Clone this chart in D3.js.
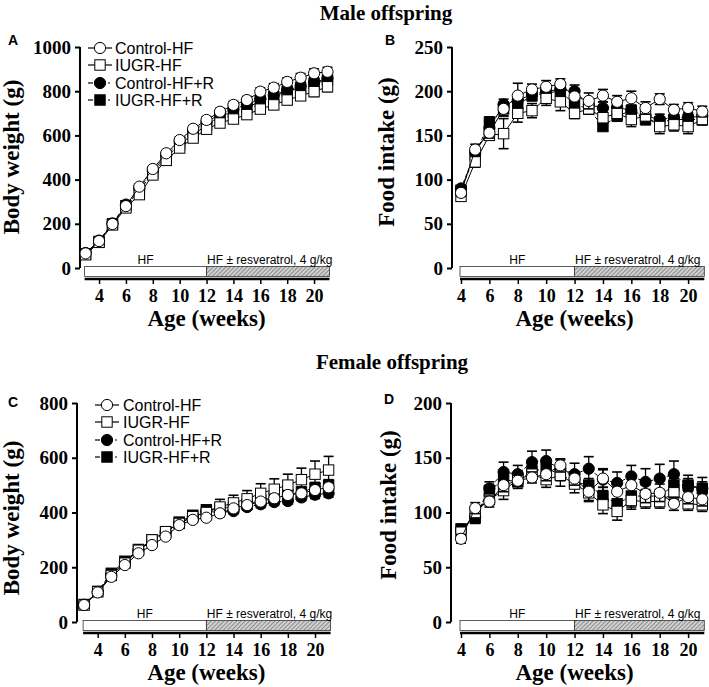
<!DOCTYPE html>
<html><head><meta charset="utf-8">
<script src="https://cdn.jsdelivr.net/npm/d3@7"></script>
<style>body{margin:0;background:#fff}</style>
</head><body>
<svg id="c" width="709" height="687"></svg>
<script>
// ---------- data ----------
const seriesNames = ["Control-HF", "IUGR-HF", "Control-HF+R", "IUGR-HF+R"];
const weeksBW = [3,4,5,6,7,8,9,10,11,12,13,14,15,16,17,18,19,20,21];
const weeksFI = [4,5,6,7,8,9,10,11,12,13,14,15,16,17,18,19,20,21];
const xTicks = [4,6,8,10,12,14,16,18,20];

// A: male body weight (g)
const A_ctrl  = [66,122,199,280,368,448,519,579,630,670,707,738,760,798,816,842,861,881,888];
const A_iugr  = [60,116,195,272,332,421,487,543,588,628,656,674,694,719,738,760,779,798,820];
const A_ctrlR = [68,124,202,287,360,440,510,570,620,660,697,718,740,765,782,805,822,840,858];
const A_iugrR = [64,120,200,282,350,430,500,560,605,645,690,705,725,755,775,800,815,835,850];
const A_ctrlE = [5,6,8,10,12,12,12,14,14,15,15,16,16,17,18,18,19,20,20];
const A_iugrE = [5,6,8,10,12,12,12,14,14,16,16,18,18,18,20,20,20,22,22];
const A_ctrlRE= [5,6,8,10,12,12,12,14,14,15,15,16,16,17,18,18,19,20,20];
const A_iugrRE= [5,6,8,10,12,12,12,14,14,15,15,16,16,17,18,18,19,20,20];

// B: male food intake (g)
const B_ctrl  = [85,134,153,180,195,202,205,208,194,189,195,188,192,181,191,179,181,177];
const B_iugr  = [81,120,150,152,175,178,192,188,175,180,170,175,168,172,160,162,160,168];
const B_ctrlR = [90,130,158,185,190,196,200,202,200,185,181,182,178,172,168,170,170,172];
const B_iugrR = [88,128,165,180,185,195,198,200,185,180,160,172,178,168,165,168,168,168];
const B_ctrlE = [4,6,6,8,14,6,7,6,6,9,7,7,8,7,6,6,6,6];
const B_iugrE = [3,6,5,17,10,8,8,10,6,6,8,8,8,8,8,7,8,6];
const B_ctrlRE= [3,6,6,6,6,5,5,5,7,6,7,7,6,6,6,6,6,6];
const B_iugrRE= [3,6,6,8,6,6,6,6,6,6,4,6,6,6,6,6,6,6];

// C: female body weight (g)
const C_ctrl  = [62,108,165,208,251,281,312,354,373,381,397,415,427,440,452,464,470,482,492];
const C_iugr  = [62,110,170,215,262,300,330,360,385,400,420,435,450,470,485,500,520,540,555];
const C_ctrlR = [63,110,172,218,262,296,328,360,385,405,400,405,420,430,438,442,455,465,470];
const C_iugrR = [64,112,178,222,265,300,330,365,390,410,415,420,430,445,455,465,475,490,500];
const C_ctrlE = [4,5,6,7,8,8,9,10,10,10,12,12,12,12,14,14,14,15,16];
const C_iugrE = [4,5,6,8,8,10,10,12,14,15,28,28,30,35,38,40,42,48,50];
const C_ctrlRE= [4,5,6,7,8,8,9,10,10,10,10,10,12,12,12,12,12,14,14];
const C_iugrRE= [4,5,6,7,8,8,9,10,12,12,14,14,15,16,16,18,18,20,20];

// D: female food intake (g)
const D_ctrl  = [76,104,110,125,129,132,135,143,131,119,131,119,125,117,118,108,114,112];
const D_iugr  = [82,100,112,120,130,135,130,134,126,118,107,101,111,110,110,118,108,107];
const D_ctrlR = [84,96,122,137,135,146,147,140,135,140,130,127,133,128,131,135,124,122];
const D_iugrR = [85,95,120,130,128,138,140,135,128,125,115,108,115,115,115,125,125,122];
const D_ctrlE = [4,5,5,6,5,5,6,6,6,8,8,8,8,8,8,6,6,6];
const D_iugrE = [4,5,5,8,6,6,7,10,8,8,8,8,8,6,6,6,6,6];
const D_ctrlRE= [5,6,6,9,8,10,10,8,10,11,10,10,10,12,13,12,10,10];
const D_iugrRE= [4,4,5,6,6,6,6,6,6,6,8,10,10,6,6,6,6,6];

const A_yTicks = [0,200,400,600,800,1000];
const B_yTicks = [0,50,100,150,200,250];
const C_yTicks = [0,200,400,600,800];
const D_yTicks = [0,50,100,150,200];

// ---------- drawing ----------
const svg = d3.select("#c");
const SERIF = "'Liberation Serif','Times New Roman',serif";
const SANS = "'Liberation Sans',Arial,sans-serif";

const defs = svg.append("defs");
const pat = defs.append("pattern").attr("id","hatch").attr("patternUnits","userSpaceOnUse")
  .attr("width",3).attr("height",3).attr("patternTransform","rotate(45)");
pat.append("rect").attr("width",3).attr("height",3).attr("fill","#d0d0d0");
pat.append("line").attr("x1",0).attr("y1",0).attr("x2",0).attr("y2",3).attr("stroke","#555").attr("stroke-width",1.1);

const styles = [
  {shape:"circle", fill:"#fff", dash:null},
  {shape:"square", fill:"#fff", dash:null},
  {shape:"circle", fill:"#000", dash:"4,2"},
  {shape:"square", fill:"#000", dash:"4,2"}
];

function marker(g, shape, fill, cx, cy) {
  if (shape === "circle") {
    g.append("circle").attr("cx",cx).attr("cy",cy).attr("r",5.6)
      .attr("fill",fill).attr("stroke","#000").attr("stroke-width",1);
  } else {
    g.append("rect").attr("x",cx-5.2).attr("y",cy-5.2).attr("width",10.4).attr("height",10.4)
      .attr("fill",fill).attr("stroke","#000").attr("stroke-width",1);
  }
}

function panel(cfg) {
  const g = svg.append("g");
  const x = d3.scaleLinear().domain(cfg.xDomain).range(cfg.xRange);
  const y = d3.scaleLinear().domain(cfg.yDomain).range(cfg.yRange);
  const y0 = y(0);

  // y axis
  const yAxis = d3.axisLeft(y).tickValues(cfg.yTicks).tickSize(5).tickPadding(4).tickFormat(d3.format("d"));
  const ya = g.append("g").attr("transform",`translate(${cfg.axisX},0)`).call(yAxis);
  ya.select(".domain").attr("stroke-width",2).attr("d",`M0,${y(cfg.yDomain[1])}V${y0}`);
  ya.selectAll(".tick line").attr("stroke-width",2);
  ya.selectAll("text").attr("font-family",SERIF).attr("font-weight","bold").attr("font-size",19).attr("fill","#000");

  // treatment bar
  const bx0 = x(cfg.xDomain[0]) - 1, bx1 = x(21) + 2, b12 = x(12);
  const by = y0 - 1.5, bh = 10;
  g.append("rect").attr("x",bx0).attr("y",by).attr("width",b12-bx0).attr("height",bh)
    .attr("fill","#fff").attr("stroke","#333").attr("stroke-width",0.8);
  g.append("rect").attr("x",b12).attr("y",by).attr("width",bx1-b12).attr("height",bh)
    .attr("fill","url(#hatch)").attr("stroke","#333").attr("stroke-width",0.8);
  g.append("text").attr("x",(bx0+b12)/2).attr("y",by-3).attr("text-anchor","middle")
    .attr("font-family",SANS).attr("font-size",12).text("HF");
  g.append("text").attr("x",b12+0.5).attr("y",by-3).attr("text-anchor","start")
    .attr("font-family",SANS).attr("font-size",12).text("HF ± resveratrol, 4 g/kg");

  // x axis
  const axY = by + bh + 2.5;
  const xAxis = d3.axisBottom(x).tickValues(xTicks).tickSize(5).tickPadding(5).tickFormat(d3.format("d"));
  const xa = g.append("g").attr("transform",`translate(0,${axY})`).call(xAxis);
  xa.select(".domain").attr("stroke-width",2.5).attr("d",`M${bx0},0H${bx1}`);
  xa.selectAll(".tick line").attr("stroke-width",1.5);
  xa.selectAll("text").attr("font-family",SERIF).attr("font-weight","bold").attr("font-size",18).attr("fill","#000");

  // titles
  g.append("text").attr("x",x(12)).attr("y",y0+58).attr("text-anchor","middle")
    .attr("font-family",SERIF).attr("font-weight","bold").attr("font-size",23).text("Age (weeks)");
  g.append("text").attr("transform",`translate(${cfg.yTitleX},${cfg.yTitleY}) rotate(-90)`)
    .attr("text-anchor","middle").attr("font-family",SERIF).attr("font-weight","bold")
    .attr("font-size",23).text(cfg.yTitle);
  g.append("text").attr("x",cfg.letterX).attr("y",cfg.letterY).attr("font-family",SANS)
    .attr("font-weight","bold").attr("font-size",14).text(cfg.letter);

  // series: draw filled first, open on top
  const order = [2,3,1,0];
  const line = d3.line().x(d => x(d[0])).y(d => y(d[1]));
  order.forEach(i => {
    const vals = cfg.series[i], errs = cfg.errors[i], st = styles[i];
    const pts = cfg.weeks.map((w,k) => [w, vals[k], errs[k]]);
    const sg = g.append("g");
    sg.append("path").attr("d",line(pts)).attr("fill","none").attr("stroke","#000")
      .attr("stroke-width",1).attr("stroke-dasharray",st.dash);
    pts.forEach(p => {
      const cx = x(p[0]), yt = y(p[1]+p[2]), yb = y(p[1]-p[2]);
      sg.append("line").attr("x1",cx).attr("x2",cx).attr("y1",yt).attr("y2",yb).attr("stroke","#000").attr("stroke-width",1.3);
      sg.append("line").attr("x1",cx-5).attr("x2",cx+5).attr("y1",yt).attr("y2",yt).attr("stroke","#000").attr("stroke-width",1.6);
      sg.append("line").attr("x1",cx-5).attr("x2",cx+5).attr("y1",yb).attr("y2",yb).attr("stroke","#000").attr("stroke-width",1.6);
    });
    pts.forEach(p => marker(sg, st.shape, st.fill, x(p[0]), y(p[1])));
  });

  // legend
  if (cfg.legend) {
    const L = cfg.legend;
    seriesNames.forEach((name,i) => {
      const ly = L.rows[i], st = styles[i];
      if (st.dash) {
        g.append("line").attr("x1",L.mx-12).attr("x2",L.mx-7).attr("y1",ly).attr("y2",ly).attr("stroke","#000").attr("stroke-width",1.2);
        g.append("line").attr("x1",L.mx+8).attr("x2",L.mx+10).attr("y1",ly).attr("y2",ly).attr("stroke","#000").attr("stroke-width",1.2);
      } else {
        g.append("line").attr("x1",L.mx-12).attr("x2",L.mx+12).attr("y1",ly).attr("y2",ly).attr("stroke","#000").attr("stroke-width",1.2);
      }
      marker(g, st.shape, st.fill, L.mx, ly);
      g.append("text").attr("x",L.tx).attr("y",ly).attr("dy","0.35em").attr("font-family",SANS)
        .attr("font-size",16).text(name);
    });
  }
}

panel({letter:"A", letterX:8, letterY:45, axisX:80, xDomain:[3,21], xRange:[85.6,327.5],
  yDomain:[0,1000], yRange:[268,47], yTicks:A_yTicks, weeks:weeksBW,
  series:[A_ctrl,A_iugr,A_ctrlR,A_iugrR], errors:[A_ctrlE,A_iugrE,A_ctrlRE,A_iugrRE],
  yTitle:"Body weight (g)", yTitleX:19, yTitleY:157,
  legend:{mx:100, tx:115, rows:[48,65,83,100]}});

panel({letter:"B", letterX:385, letterY:45, axisX:452, xDomain:[4,21], xRange:[461,702.3],
  yDomain:[0,250], yRange:[268,47], yTicks:B_yTicks, weeks:weeksFI,
  series:[B_ctrl,B_iugr,B_ctrlR,B_iugrR], errors:[B_ctrlE,B_iugrE,B_ctrlRE,B_iugrRE],
  yTitle:"Food intake (g)", yTitleX:394, yTitleY:152});

panel({letter:"C", letterX:8, letterY:407, axisX:77, xDomain:[3,21], xRange:[84.1,328.6],
  yDomain:[0,800], yRange:[622,403], yTicks:C_yTicks, weeks:weeksBW,
  series:[C_ctrl,C_iugr,C_ctrlR,C_iugrR], errors:[C_ctrlE,C_iugrE,C_ctrlRE,C_iugrRE],
  yTitle:"Body weight (g)", yTitleX:19, yTitleY:518,
  legend:{mx:107, tx:123, rows:[405,422,440,457]}});

panel({letter:"D", letterX:384, letterY:404, axisX:451, xDomain:[4,21], xRange:[461,702.3],
  yDomain:[0,200], yRange:[622,403], yTicks:D_yTicks, weeks:weeksFI,
  series:[D_ctrl,D_iugr,D_ctrlR,D_iugrR], errors:[D_ctrlE,D_iugrE,D_ctrlRE,D_iugrRE],
  yTitle:"Food intake (g)", yTitleX:396, yTitleY:505});

// section titles
svg.append("text").attr("x",386).attr("y",20).attr("text-anchor","middle").attr("font-family",SERIF)
  .attr("font-weight","bold").attr("font-size",21).text("Male offspring");
svg.append("text").attr("x",392).attr("y",369).attr("text-anchor","middle").attr("font-family",SERIF)
  .attr("font-weight","bold").attr("font-size",21).text("Female offspring");
</script>
</body></html>
